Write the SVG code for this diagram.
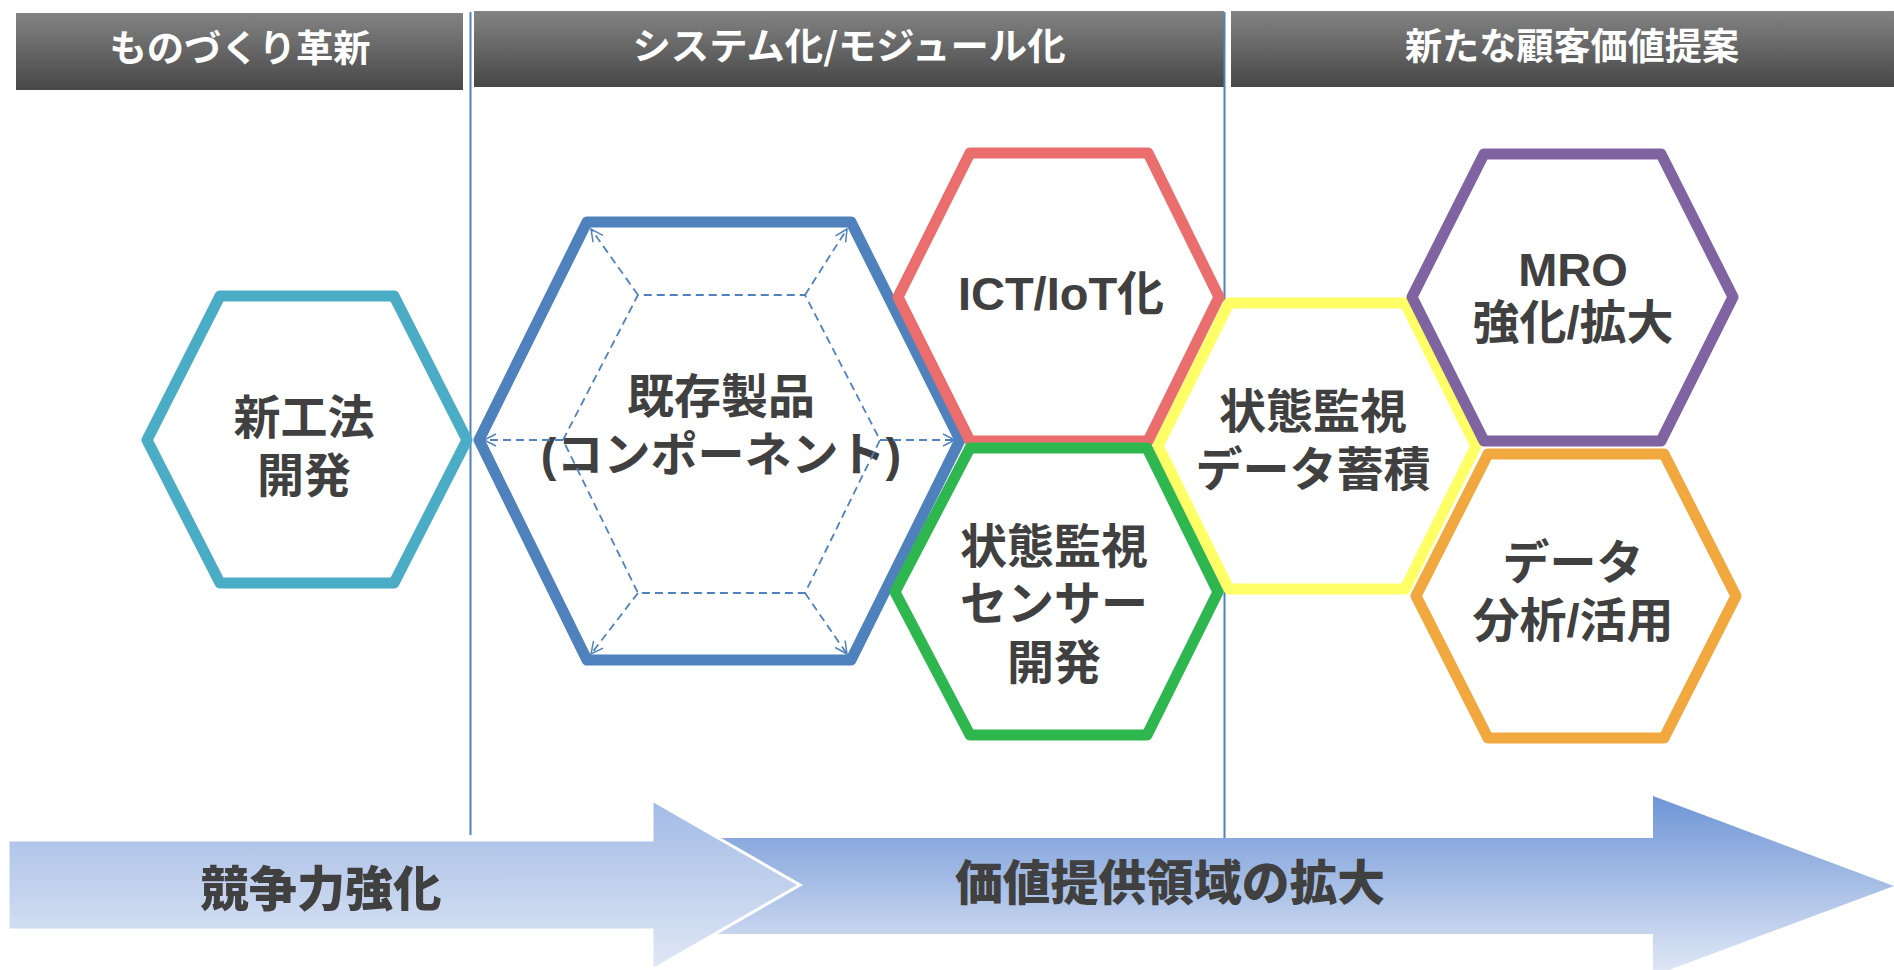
<svg xmlns="http://www.w3.org/2000/svg" width="1894" height="970" viewBox="0 0 1894 970">
<defs>
<style>
.hex{fill:#fff;stroke-width:11;stroke-linejoin:round}
.t{font-family:"Liberation Sans","Noto Sans CJK JP",sans-serif;font-weight:bold;font-size:47px;fill:#404040;text-anchor:middle}
.h{font-family:"Noto Sans CJK JP",sans-serif;font-weight:bold;font-size:37px;fill:#fff;text-anchor:middle}
.a{font-family:"Noto Sans CJK JP",sans-serif;font-weight:900;font-size:48px;fill:#404040;text-anchor:middle}
.div{stroke:#4F81BD;stroke-width:2;fill:none}
.dash{stroke:#4F81BD;stroke-width:1.8;fill:none;stroke-dasharray:8 5}
</style>
<linearGradient id="hdr" x1="0" y1="0" x2="0" y2="1"><stop offset="0" stop-color="#838383"/><stop offset="1" stop-color="#474747"/></linearGradient>
<linearGradient id="ar1" x1="0" y1="0" x2="0" y2="1"><stop offset="0" stop-color="#A2BAE5"/><stop offset="1" stop-color="#E0E8F5"/></linearGradient>
<linearGradient id="ar2" x1="0" y1="0" x2="0" y2="1"><stop offset="0" stop-color="#6E95D6"/><stop offset="1" stop-color="#E2E9F6"/></linearGradient>
<marker id="ah" viewBox="0 0 14 14" refX="13" refY="7" markerWidth="14" markerHeight="14" markerUnits="userSpaceOnUse" orient="auto">
<path d="M1,1 L13,7 L1,13" fill="none" stroke="#4F81BD" stroke-width="1.5"/>
</marker>
</defs>
<rect width="1894" height="970" fill="#fff"/>
<g id="headers">
<g id="header-1"><rect x="16" y="13" width="447" height="77" fill="url(#hdr)"/><text class="h" x="240" y="62" textLength="261" lengthAdjust="spacingAndGlyphs">ものづくり革新</text></g>
<g id="header-2"><rect x="474" y="11" width="750" height="76" fill="url(#hdr)"/><text class="h" x="849" y="60" textLength="433" lengthAdjust="spacingAndGlyphs">システム化/モジュール化</text></g>
<g id="header-3"><rect x="1231" y="11" width="663" height="76" fill="url(#hdr)"/><text class="h" x="1572" y="60" textLength="334" lengthAdjust="spacingAndGlyphs">新たな顧客価値提案</text></g>
</g>
<g id="dividers">
<line class="div" x1="470.5" y1="12" x2="470.5" y2="835"/>
<line class="div" x1="1224.5" y1="12" x2="1224.5" y2="838"/>
</g>
<g id="arrow-value">
<polygon points="700,838 1653,838 1653,796 1894,886 1653,976 1653,934 700,934" fill="url(#ar2)"/>
<text class="a" x="1170" y="900" textLength="430" lengthAdjust="spacingAndGlyphs">価値提供領域の拡大</text>
</g>
<g id="arrow-compete">
<polygon points="8,840 652,840 652,800 800,885 652,970 652,930 8,930" fill="url(#ar1)" stroke="#fff" stroke-width="3" stroke-linejoin="miter"/>
<text class="a" x="321" y="906" textLength="241" lengthAdjust="spacingAndGlyphs">競争力強化</text>
</g>
<g id="node-new-method">
<polygon class="hex" stroke="#4BACC6" points="147,440 220,296 394,296 467,440 394,583 220,583"/>
<text class="t" x="304" y="434">新工法</text>
<text class="t" x="304" y="492">開発</text>
</g>
<g id="node-existing">
<polygon class="hex" stroke="#4F81BD" points="479,440 587,222 851,222 960,440 851,660 587,660"/>
<text class="t" x="721" y="413">既存製品</text>
<text class="t" x="721" y="471">(コンポーネント)</text>
</g>
<g id="connectors">
<polyline class="dash" points="563,440 638,295 805,295 880,440 805,593 638,593 563,440"/>
<line class="dash" x1="638" y1="295" x2="591" y2="229" marker-end="url(#ah)"/>
<line class="dash" x1="805" y1="295" x2="847" y2="229" marker-end="url(#ah)"/>
<line class="dash" x1="563" y1="440" x2="484" y2="440" marker-end="url(#ah)"/>
<line class="dash" x1="880" y1="440" x2="955" y2="440" marker-end="url(#ah)"/>
<line class="dash" x1="638" y1="593" x2="591" y2="654" marker-end="url(#ah)"/>
<line class="dash" x1="805" y1="593" x2="847" y2="654" marker-end="url(#ah)"/>
</g>
<g id="node-data-store">
<polygon class="hex" stroke="#FFFF66" points="1158,446 1229,303 1405,303 1476,446 1405,589 1229,589"/>
<text class="t" x="1313" y="428">状態監視</text>
<text class="t" x="1313" y="486">データ蓄積</text>
</g>
<g id="node-ict">
<polygon class="hex" stroke="#EB6E6E" points="898,297 970,153 1148,153 1219,297 1148,441 970,441"/>
<text class="t" x="1061" y="310">ICT/IoT化</text>
</g>
<g id="node-sensor">
<polygon class="hex" stroke="#2EB74F" points="895,592 970,448 1147,448 1218,592 1147,735 970,735"/>
<text class="t" x="1054" y="563">状態監視</text>
<text class="t" x="1054" y="620">センサー</text>
<text class="t" x="1054" y="679">開発</text>
</g>
<g id="node-mro">
<polygon class="hex" stroke="#8064A2" points="1412,297 1484,154 1661,154 1733,297 1661,441 1484,441"/>
<text class="t" x="1573" y="286">MRO</text>
<text class="t" x="1573" y="339">強化/拡大</text>
</g>
<g id="node-analysis">
<polygon class="hex" stroke="#F0A83F" points="1416,596 1488,454 1664,454 1736,596 1664,738 1488,738"/>
<text class="t" x="1573" y="579">データ</text>
<text class="t" x="1573" y="637">分析/活用</text>
</g>
</svg>
